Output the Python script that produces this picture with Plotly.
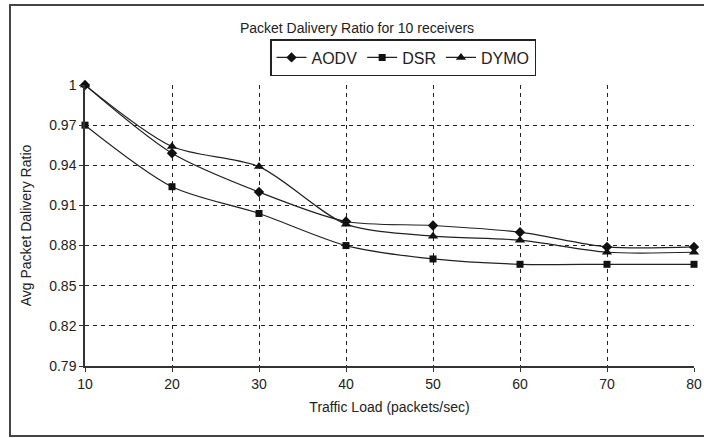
import plotly.graph_objects as go

traffic_load = [10, 20, 30, 40, 50, 60, 70, 80]
aodv = [1.000, 0.949, 0.920, 0.898, 0.895, 0.890, 0.879, 0.879]
dsr = [0.970, 0.924, 0.904, 0.880, 0.870, 0.866, 0.866, 0.866]
dymo = [1.000, 0.954, 0.939, 0.896, 0.887, 0.884, 0.875, 0.875]

y_ticks = [0.79, 0.82, 0.85, 0.88, 0.91, 0.94, 0.97, 1.0]
y_ticktext = ["0.79", "0.82", "0.85", "0.88", "0.91", "0.94", "0.97", "1"]
x_ticks = [10, 20, 30, 40, 50, 60, 70, 80]

FONT = "Liberation Sans, Arial, sans-serif"

fig = go.Figure()
series = [("AODV", aodv, "diamond", 8), ("DSR", dsr, "square", 7), ("DYMO", dymo, "triangle-up", 9)]
for name, vals, sym, sz in series:
    fig.add_trace(go.Scatter(
        x=traffic_load, y=vals, name=name, mode="lines+markers",
        line=dict(color="#222222", width=1.2, shape="spline", smoothing=0.8),
        marker=dict(symbol=sym, size=sz, color="#111111"),
        cliponaxis=False,
    ))

# outer frame
fig.add_shape(type="rect", xref="paper", yref="paper",
              x0=(10 - 85) / 609, x1=(712 - 85) / 609,
              y0=(366 - 436) / 281, y1=(366 - 5) / 281,
              line=dict(color="#444444", width=2), layer="below")

fig.update_layout(
    width=704, height=438,
    margin=dict(l=85, r=10, t=85, b=72, autoexpand=False),
    paper_bgcolor="white", plot_bgcolor="white",
    font=dict(family=FONT, size=14, color="#222222"),
    title=dict(text="Packet Dalivery Ratio for 10 receivers", x=(357 - 85) / 609, xref="paper",
               xanchor="center", y=1 - 28 / 438, yanchor="middle",
               font=dict(size=14, family=FONT, color="#222222")),
    showlegend=True,
    legend=dict(orientation="h", x=(403 - 85) / 609, xanchor="center",
                y=(366 - 39) / 281, yanchor="top",
                bordercolor="#222222", borderwidth=1.5, bgcolor="white",
                font=dict(size=16, family=FONT, color="#222222"),
                itemwidth=30, tracegroupgap=0),
    xaxis=dict(range=[10, 80], tickvals=x_ticks, showgrid=True, automargin=False,
               gridcolor="#222222", griddash="4px,4px", gridwidth=1,
               showline=True, linecolor="#333333", linewidth=1.5,
               ticks="outside", ticklen=4, tickcolor="#333333",
               zeroline=False,
               title=dict(text="Traffic Load (packets/sec)", standoff=12,
                          font=dict(size=14, family=FONT))),
    yaxis=dict(range=[0.79, 1.0], tickvals=y_ticks, ticktext=y_ticktext, automargin=False,
               showgrid=True, gridcolor="#222222", griddash="4px,4px", gridwidth=1,
               showline=True, linecolor="#333333", linewidth=1.5,
               ticks="outside", ticklen=4, tickcolor="#333333",
               zeroline=False,
               title=dict(text="Avg Packet Dalivery Ratio", standoff=14,
                          font=dict(size=14, family=FONT))),
)

fig.write_html("out.html", config={"displayModeBar": False},
               post_script="document.body.style.margin='0';document.body.style.overflow='hidden';")
